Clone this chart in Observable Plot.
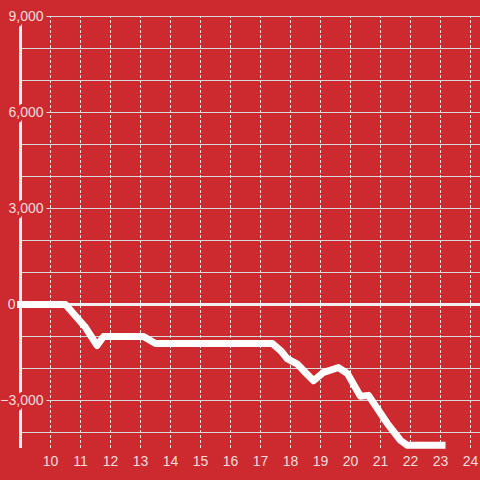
<!DOCTYPE html>
<html>
<head>
<meta charset="utf-8">
<script src="https://cdn.jsdelivr.net/npm/d3@7"></script>
<script src="https://cdn.jsdelivr.net/npm/@observablehq/plot@0.6"></script>
<style>
  html, body { margin: 0; padding: 0; background: #cd2a2f; }
  #chart { width: 480px; height: 480px; }
</style>
</head>
<body>
<div id="chart"></div>
<script>
// Data (hour of day, value)
const hours = [9, 10.5, 11.17, 11.55, 11.77, 13.1, 13.5, 17.4, 17.67, 17.9, 18.23, 18.43, 18.77, 19.1, 19.4, 19.6, 19.9, 20.33, 20.6, 21.23, 21.67, 21.9, 23.05];
const values = [0, 0, -720, -1280, -1000, -1000, -1220, -1220, -1440, -1700, -1860, -2060, -2380, -2120, -2030, -1970, -2160, -2870, -2840, -3720, -4250, -4400, -4400];
const xTicks = [10, 11, 12, 13, 14, 15, 16, 17, 18, 19, 20, 21, 22, 23, 24];
const yTicks = [-3000, 3000, 6000, 9000];
const yZero = [0];
const yGrid = [-4000, -3000, -2000, -1000, 1000, 2000, 3000, 4000, 5000, 6000, 7000, 8000, 9000];

const data = hours.map((h, i) => ({h, v: values[i]}));
const bg = "#cd2a2f";
const xMin = 9, xMax = 24.333, yMin = -4500, yMax = 9000;
const fmt = d3.format(",");

const chart = Plot.plot({
  width: 480,
  height: 480,
  marginLeft: 20,
  marginRight: 0,
  marginTop: 16,
  marginBottom: 32,
  style: {background: bg, fontFamily: "'Liberation Sans', Arial, sans-serif", fontSize: "14px", overflow: "visible"},
  x: {domain: [xMin, xMax], axis: null},
  y: {domain: [yMin, yMax], axis: null},
  marks: [
    Plot.ruleY(yGrid, {x1: xMin, x2: xMax, stroke: "#d8d8d8", strokeWidth: 1}),
    Plot.ruleX(xTicks, {y1: yMin, y2: yMax, stroke: "#e4e4e4", strokeWidth: 1, strokeDasharray: "3,2"}),
    Plot.ruleY(yZero, {x1: xMin - 0.07, x2: xMax, stroke: "#f0f0f0", strokeWidth: 3}),
    Plot.ruleX([xMin], {y1: yMin, y2: yMax, stroke: "#f0f0f0", strokeWidth: 3}),
    Plot.text(yTicks, {x: xMin, y: d => d, text: d => fmt(d), textAnchor: "end", dx: 23,
      fill: "#f6dcdc", stroke: bg, strokeWidth: 7, fontSize: 14}),
    Plot.text(yZero, {x: xMin, y: d => d, text: d => fmt(d), textAnchor: "end", dx: -5,
      fill: "#f6dcdc", fontSize: 14}),
    Plot.text(xTicks, {x: d => d, y: yMin, text: d => String(d), dy: 13,
      fill: "#f6dcdc", fontSize: 14}),
    Plot.line(data, {x: "h", y: "v", stroke: "#ffffff", strokeWidth: 7,
      strokeLinecap: "square", strokeLinejoin: "round", curve: "linear"})
  ]
});
document.getElementById("chart").appendChild(chart);
</script>
</body>
</html>
